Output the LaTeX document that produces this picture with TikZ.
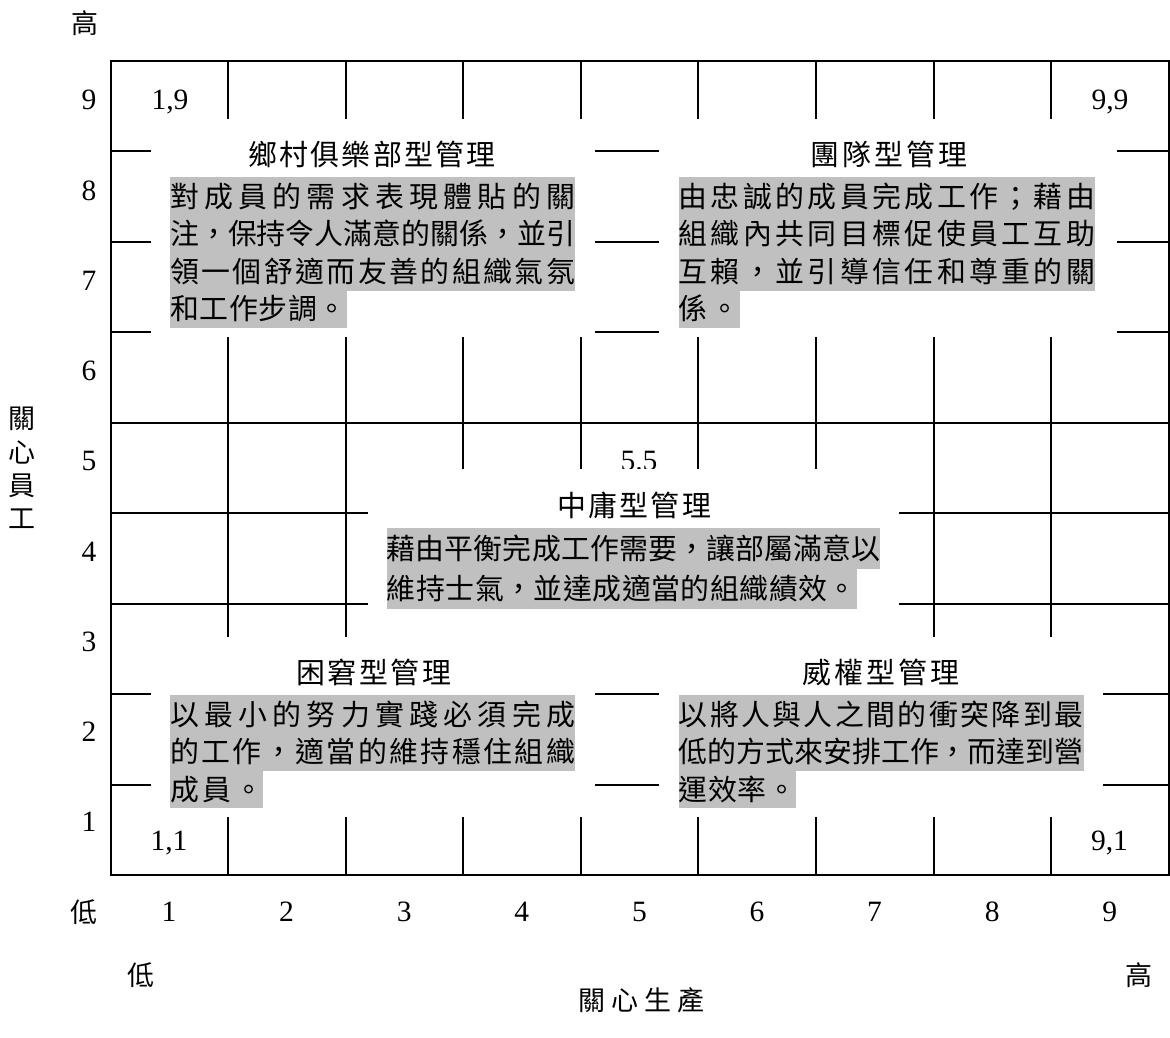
\documentclass[tikz,border=0pt]{standalone}
\usepackage{fontspec}
\setmainfont{Liberation Serif}
\newfontfamily\cjkfont{Noto Sans CJK TC}
\definecolor{graybg}{RGB}{192,192,192}
\def\sprA#1{#1\sprB}
\def\sprB#1{\ifx#1\relax\else\hfill#1\expandafter\sprB\fi}
\newcommand\spreadtxt[2]{\makebox[#1][s]{\sprA#2\relax}}
\newcommand\bodyfont{\cjkfont\fontsize{28.9}{34}\selectfont}
\newcommand\axisfont{\cjkfont\fontsize{27}{33.3}\selectfont}
\newcommand\numfont{\fontsize{29.5}{34}\selectfont}
\begin{document}
\begin{tikzpicture}[x=1pt,y=-1pt,
  gridline/.style={line width=2pt},
  wbox/.style={fill=white, draw=none, inner sep=0pt, anchor=north west},
  gline/.style={fill=graybg, inner sep=0pt, minimum height=#1, text height=25.5pt, text depth=3.5pt, anchor=north west, font=\bodyfont},
  gline/.default=38pt,
  title/.style={inner sep=0pt, text height=25.5pt, text depth=3.5pt, font=\bodyfont},
  numlab/.style={inner sep=0pt, anchor=base, font=\numfont},
  axislab/.style={inner sep=0pt, font=\axisfont}]
\useasboundingbox (0,0) rectangle (1170,1038);
% grid
\draw[gridline] (110.7,61) rectangle (1168.65,875);
\foreach \i in {1,...,8} {
  \draw[gridline] ({110.7+\i*117.55},61) -- ({110.7+\i*117.55},875);
}
\foreach \j in {1,...,8} {
  \draw[gridline] (110.7,{61+\j*90.44}) -- (1168.65,{61+\j*90.44});
}
% centre label (partly covered)
\node[numlab] (c55) at (639,470) {5.5};
% white text areas
\node[wbox, minimum width=444.3pt, minimum height=218pt] (tlbox) at (150.7,119) {};
\node[wbox, minimum width=458.3pt, minimum height=218pt] (trbox) at (658.7,119) {};
\node[wbox, minimum width=531.3pt, minimum height=168pt] (cbox) at (367.7,469) {};
\node[wbox, minimum width=443.6pt, minimum height=180pt] (blbox) at (150.7,637) {};
\node[wbox, minimum width=443.6pt, minimum height=180pt] (brbox) at (658.7,637) {};
% titles
\node[title] (tlt) at (372,154) {\spreadtxt{247pt}{鄉村俱樂部型管理}};
\node[title] (trt) at (889,154) {\spreadtxt{157pt}{團隊型管理}};
\node[title] (ct) at (634,505) {\spreadtxt{154pt}{中庸型管理}};
\node[title] (blt) at (373.5,672) {\spreadtxt{155pt}{困窘型管理}};
\node[title] (brt) at (881,672) {\spreadtxt{157pt}{威權型管理}};
% top-left text
\node[gline] (tl1) at (170,177) {\spreadtxt{405pt}{對成員的需求表現體貼的關}};
\node[gline] (tl2) at (170,214.7) {\spreadtxt{405pt}{注，保持令人滿意的關係，並引}};
\node[gline] (tl3) at (170,252.4) {\spreadtxt{405pt}{領一個舒適而友善的組織氣氛}};
\node[gline=37.2pt] (tl4) at (170,290.1) {\spreadtxt{176.7pt}{和工作步調。}};
% top-right text
\node[gline] (tr1) at (678.3,177) {\spreadtxt{416.7pt}{由忠誠的成員完成工作；藉由}};
\node[gline] (tr2) at (678.3,214.7) {\spreadtxt{416.7pt}{組織內共同目標促使員工互助}};
\node[gline] (tr3) at (678.3,252.4) {\spreadtxt{416.7pt}{互賴，並引導信任和尊重的關}};
\node[gline=37.2pt] (tr4) at (678.3,290.1) {\spreadtxt{61pt}{係。}};
% centre text
\node[gline=40.8pt] (c1) at (386.7,527.7) {\spreadtxt{493.3pt}{藉由平衡完成工作需要，讓部屬滿意以}};
\node[gline=40.3pt] (c2) at (386.7,568) {\spreadtxt{470pt}{維持士氣，並達成適當的組織績效。}};
% bottom-left text
\node[gline] (bl1) at (170,695) {\spreadtxt{405pt}{以最小的努力實踐必須完成}};
\node[gline] (bl2) at (170,732.6) {\spreadtxt{405pt}{的工作，適當的維持穩住組織}};
\node[gline=37.5pt] (bl3) at (170,770.2) {\spreadtxt{93pt}{成員。}};
% bottom-right text
\node[gline] (br1) at (678.5,695) {\spreadtxt{404.8pt}{以將人與人之間的衝突降到最}};
\node[gline] (br2) at (678.5,732.6) {\spreadtxt{404.8pt}{低的方式來安排工作，而達到營}};
\node[gline=37.5pt] (br3) at (678.5,770.2) {\spreadtxt{117.5pt}{運效率。}};
% corner labels
\node[numlab] (c19) at (170,110) {1,9};
\node[numlab] (c99) at (1110,110) {9,9};
\node[numlab] (c11) at (169,850) {1,1};
\node[numlab] (c91) at (1109.5,850) {9,1};
% row numbers
\foreach \k in {1,...,9} {
  \node[numlab] (row\k) at (89,{110+(9-\k)*90.2}) {\k};
}
% column numbers
\foreach \k in {1,...,9} {
  \node[numlab] (col\k) at ({169+(\k-1)*117.6},921.7) {\k};
}
% axis labels
\node[axislab] (hitop) at (84.7,23) {高};
\node[axislab] (lowx) at (84,911.7) {低};
\node[axislab] (lowb) at (141,975) {低};
\node[axislab] (highb) at (1139,975) {高};
\node[axislab] (xtitle) at (641.5,1000) {\spreadtxt{127pt}{關心生產}};
\node[axislab, align=center] (ytitle) at (22,468) {關\\心\\員\\工};
\end{tikzpicture}
\end{document}
